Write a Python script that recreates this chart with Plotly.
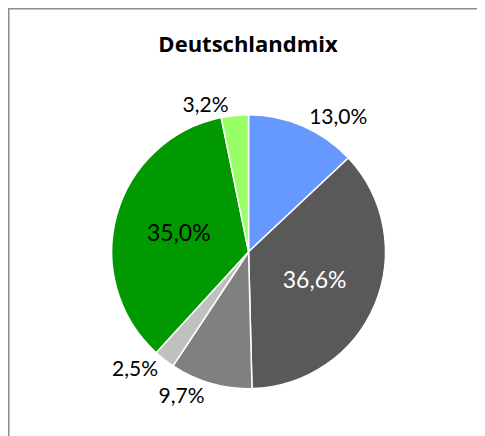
import plotly.graph_objects as go
custom_config = {'displaylogo': False, 'displayModeBar': False}

# Deutschlandmix - share of each source, clockwise from 12 o'clock
sources = ["Erneuerbare", "Kohle", "Kernenergie", "Sonstige fossile", "Erdgas", "Sonstige"]
shares = [13.0, 36.6, 9.7, 2.5, 35.0, 3.2]
share_labels = ["13,0%", "36,6%", "9,7%", "2,5%", "35,0%", "3,2%"]
colors = ["#6699FF", "#595959", "#808080", "#C0C0C0", "#009900", "#99FF66"]
text_pos = ["outside", "inside", "outside", "outside", "inside", "outside"]
text_colors = ["black", "white", "black", "black", "black", "black"]

fig = go.Figure(
        go.Pie(
        labels=sources,
        values=shares,
        text=share_labels,
        textinfo="text",
        textposition=text_pos,
        insidetextorientation="horizontal",
        insidetextfont=dict(family="Lato", size=23, color=text_colors),
        outsidetextfont=dict(family="Lato", size=21, color="black"),
        sort=False,
        direction="clockwise",
        rotation=0,
        automargin=False,
        marker=dict(colors=colors, line=dict(color="white", width=1.5)),
        domain=dict(x=[0.0, 0.992], y=[0.127, 0.755]),
        showlegend=False,
        hoverinfo="label+text",
        )
)

# frame of the chart area (only top and left edge visible)
fig.add_shape(type="line", xref="paper", yref="paper", x0=0.0, x1=1.0, y0=1.0, y1=1.0,
              line=dict(color="#8C8C8C", width=3))
fig.add_shape(type="line", xref="paper", yref="paper", x0=0.0, x1=0.0, y0=0.0, y1=1.0,
              line=dict(color="#8C8C8C", width=3))

fig.update_layout(
        width=485, height=436,
        margin=dict(l=0, r=0, t=0, b=0, autoexpand=False),
        paper_bgcolor="white",
        title=dict(text="<b>Deutschlandmix</b>", x=0.495, xanchor="center", y=0.917, yanchor="middle",
                   automargin=False, font=dict(family="Open Sans", size=22, color="black")),
)

fig.write_html("out.html", config=custom_config)
